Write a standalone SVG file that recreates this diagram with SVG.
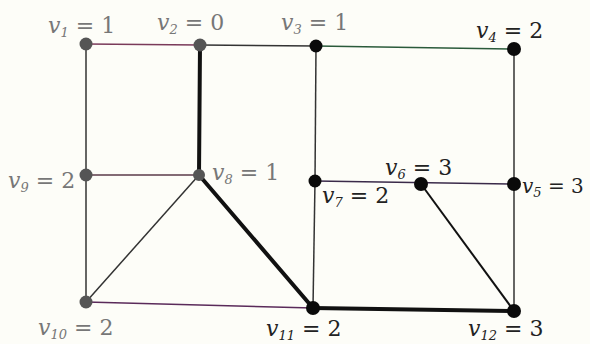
<svg xmlns="http://www.w3.org/2000/svg" width="590" height="344" viewBox="0 0 590 344">
<style>
.e{stroke:#333;stroke-width:1.5;fill:none}
.t{stroke:#111;stroke-width:4;fill:none;stroke-linecap:round}
.g{fill:#555}
.b{fill:#0a0a0a}
.lg{fill:#777;font-size:22px}
.lb{fill:#222;font-size:22px}
.v{font-style:italic}
.s{font-style:italic;font-size:13px}
</style>
<rect width="590" height="344" fill="#fdfdf8"/>
<g id="edges">
<line class="e" x1="86" y1="44" x2="200" y2="45" style="stroke:#7a3a5a"/>
<line class="e" x1="200" y1="45" x2="316" y2="46"/>
<line class="e" x1="316" y1="46" x2="514" y2="49" style="stroke:#2a5a3a"/>
<line class="e" x1="86" y1="44" x2="86" y2="175"/>
<line class="e" x1="86" y1="175" x2="86" y2="302"/>
<line class="t" x1="200" y1="45" x2="199" y2="175"/>
<line class="e" x1="86" y1="175" x2="199" y2="175" style="stroke:#5a3a4a"/>
<line class="e" x1="199" y1="175" x2="86" y2="302"/>
<line class="t" x1="199" y1="175" x2="313" y2="308"/>
<line class="e" x1="316" y1="46" x2="315" y2="181"/>
<line class="e" x1="315" y1="181" x2="313" y2="308"/>
<line class="e" x1="315" y1="181" x2="514" y2="184" style="stroke:#3a2a4a"/>
<line class="e" x1="514" y1="49" x2="514" y2="184"/>
<line class="e" x1="514" y1="184" x2="514" y2="311"/>
<line class="e" x1="421" y1="184" x2="514" y2="311" style="stroke:#111;stroke-width:2"/>
<line class="e" x1="86" y1="302" x2="313" y2="308" style="stroke:#5a2a5a"/>
<line class="t" x1="313" y1="308" x2="514" y2="311"/>
</g>
<g font-family="DejaVu Serif, serif">
<g id="v1"><circle class="g" cx="86" cy="44" r="6.5"/><text class="lg" x="48" y="33"><tspan class="v">v</tspan><tspan class="s" dy="4">1</tspan><tspan dy="-4"> = 1</tspan></text></g>
<g id="v2"><circle class="g" cx="200" cy="45" r="6.5"/><text class="lg" x="157" y="30"><tspan class="v">v</tspan><tspan class="s" dy="4">2</tspan><tspan dy="-4"> = 0</tspan></text></g>
<g id="v3"><circle class="b" cx="316" cy="46" r="6.5"/><text class="lg" x="281" y="30"><tspan class="v">v</tspan><tspan class="s" dy="4">3</tspan><tspan dy="-4"> = 1</tspan></text></g>
<g id="v4"><circle class="b" cx="514" cy="49" r="7"/><text class="lb" x="476" y="38"><tspan class="v">v</tspan><tspan class="s" dy="4">4</tspan><tspan dy="-4"> = 2</tspan></text></g>
<g id="v5"><circle class="b" cx="514" cy="184" r="7"/><text class="lb" x="522" y="193" style="font-size:20px"><tspan class="v">v</tspan><tspan class="s" dy="4">5</tspan><tspan dy="-4"> = 3</tspan></text></g>
<g id="v6"><circle class="b" cx="421" cy="184" r="7"/><text class="lb" x="385" y="175"><tspan class="v">v</tspan><tspan class="s" dy="4">6</tspan><tspan dy="-4"> = 3</tspan></text></g>
<g id="v7"><circle class="b" cx="315" cy="181" r="6.5"/><text class="lb" x="322" y="203"><tspan class="v">v</tspan><tspan class="s" dy="4">7</tspan><tspan dy="-4"> = 2</tspan></text></g>
<g id="v8"><circle class="g" cx="199" cy="175" r="6"/><text class="lg" x="212" y="180"><tspan class="v">v</tspan><tspan class="s" dy="4">8</tspan><tspan dy="-4"> = 1</tspan></text></g>
<g id="v9"><circle class="g" cx="86" cy="175" r="6.5"/><text class="lg" x="8" y="188"><tspan class="v">v</tspan><tspan class="s" dy="4">9</tspan><tspan dy="-4"> = 2</tspan></text></g>
<g id="v10"><circle class="g" cx="86" cy="302" r="6.5"/><text class="lg" x="38" y="335"><tspan class="v">v</tspan><tspan class="s" dy="4">10</tspan><tspan dy="-4"> = 2</tspan></text></g>
<g id="v11"><circle class="b" cx="313" cy="308" r="7"/><text class="lb" x="266" y="336"><tspan class="v">v</tspan><tspan class="s" dy="4">11</tspan><tspan dy="-4"> = 2</tspan></text></g>
<g id="v12"><circle class="b" cx="514" cy="311" r="7"/><text class="lb" x="468" y="336"><tspan class="v">v</tspan><tspan class="s" dy="4">12</tspan><tspan dy="-4"> = 3</tspan></text></g>
</g>
</svg>
